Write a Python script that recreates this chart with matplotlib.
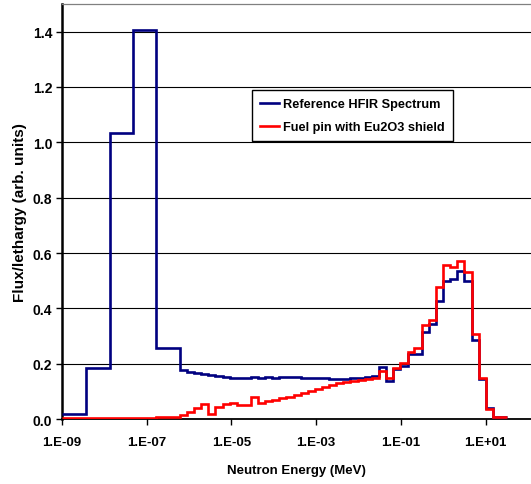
import numpy as np
import matplotlib
matplotlib.use("Agg")
import matplotlib.pyplot as plt
from matplotlib.ticker import NullLocator

# group boundaries, log10(E / MeV)
log_edges = [-9.00, -8.43, -7.87, -7.33, -6.79,
             -6.22, -6.05, -5.88, -5.72, -5.55, -5.38, -5.21, -5.04, -4.88, -4.71,
             -4.54, -4.37, -4.20, -4.04, -3.87, -3.70, -3.53, -3.36, -3.20, -3.03,
             -2.86, -2.69, -2.52, -2.36, -2.19, -2.02, -1.85, -1.68, -1.52, -1.35,
             -1.18, -1.01, -0.84, -0.68, -0.51, -0.34, -0.17, 0.00, 0.16, 0.33,
             0.50, 0.67, 0.84, 1.00, 1.17, 1.34, 1.51]

hfir_ref = [0.018, 0.185, 1.032, 1.405, 0.258,
            0.178, 0.170, 0.165, 0.161, 0.158, 0.155, 0.152, 0.149, 0.150, 0.150,
            0.151, 0.150, 0.151, 0.150, 0.151, 0.152, 0.153, 0.150, 0.149, 0.148,
            0.147, 0.146, 0.145, 0.146, 0.147, 0.149, 0.153, 0.155, 0.187, 0.136,
            0.182, 0.191, 0.234, 0.235, 0.313, 0.343, 0.428, 0.498, 0.506, 0.535,
            0.498, 0.285, 0.143, 0.038, 0.006, 0.006]

eu2o3_pin = [0.004, 0.004, 0.005, 0.005, 0.006,
             0.013, 0.025, 0.040, 0.054, 0.018, 0.045, 0.055, 0.058, 0.050, 0.049,
             0.079, 0.059, 0.064, 0.070, 0.075, 0.080, 0.087, 0.094, 0.101, 0.110,
             0.117, 0.123, 0.129, 0.133, 0.136, 0.140, 0.145, 0.150, 0.175, 0.148,
             0.183, 0.202, 0.241, 0.256, 0.340, 0.358, 0.476, 0.558, 0.550, 0.570,
             0.532, 0.306, 0.147, 0.037, 0.006, 0.006]

xticks = [1e-9, 1e-7, 1e-5, 1e-3, 1e-1, 1e1]
xticklabels = ["1.E-09", "1.E-07", "1.E-05", "1.E-03", "1.E-01", "1.E+01"]
yticks = [0.0, 0.2, 0.4, 0.6, 0.8, 1.0, 1.2, 1.4]


def main():
    plt.rcParams["font.family"] = ["Liberation Sans", "DejaVu Sans"]
    plt.rcParams["font.weight"] = "bold"

    edges = 10 ** np.array(log_edges)

    fig = plt.figure(figsize=(5.31, 4.85), dpi=100)
    ax = fig.add_axes([0.1168, 0.134, 0.8832, 0.8557])

    ax.stairs(hfir_ref, edges, baseline=None, color="#000080", lw=1.9,
              label="Reference HFIR Spectrum", zorder=3)
    ax.stairs(eu2o3_pin, edges, baseline=None, color="#ff0000", lw=1.9,
              label="Fuel pin with Eu2O3 shield", zorder=3.1)

    ax.set_xscale("log")
    ax.set_xlim(1e-9, 10 ** 2.074)
    ax.set_ylim(0, 1.5)
    ax.set_xticks(xticks)
    ax.set_xticklabels(xticklabels)
    ax.xaxis.set_minor_locator(NullLocator())
    ax.set_yticks(yticks)
    ax.set_yticklabels([f"{v:.1f}" for v in yticks])
    ax.tick_params(axis="both", direction="out", length=4, width=1)
    ax.tick_params(axis="x", pad=8, labelsize=9.5)
    ax.tick_params(axis="y", pad=3, labelsize=10)

    ax.grid(axis="y", color="black", lw=0.8)
    ax.set_axisbelow(True)
    ax.spines["right"].set_visible(False)
    ax.spines["top"].set_color("#808080")
    ax.spines["top"].set_linewidth(0.9)
    ax.spines["left"].set_linewidth(1.8)
    ax.spines["bottom"].set_linewidth(1.3)

    ax.set_xlabel("Neutron Energy (MeV)", fontsize=9.5, fontweight="bold", labelpad=12)
    ax.set_ylabel("Flux/lethargy (arb. units)", fontsize=11, fontweight="bold", labelpad=4)

    leg = ax.legend(loc="upper left", bbox_to_anchor=(0.406, 0.792), fontsize=9.2,
                    frameon=True, fancybox=False, framealpha=1, edgecolor="black",
                    handlelength=1.5, handletextpad=0.3, labelspacing=0.9,
                    borderpad=0.6, borderaxespad=0)
    leg.get_frame().set_linewidth(1.0)
    leg.set_zorder(5)

    fig.savefig("out.png", dpi=100)


if __name__ == "__main__":
    main()
